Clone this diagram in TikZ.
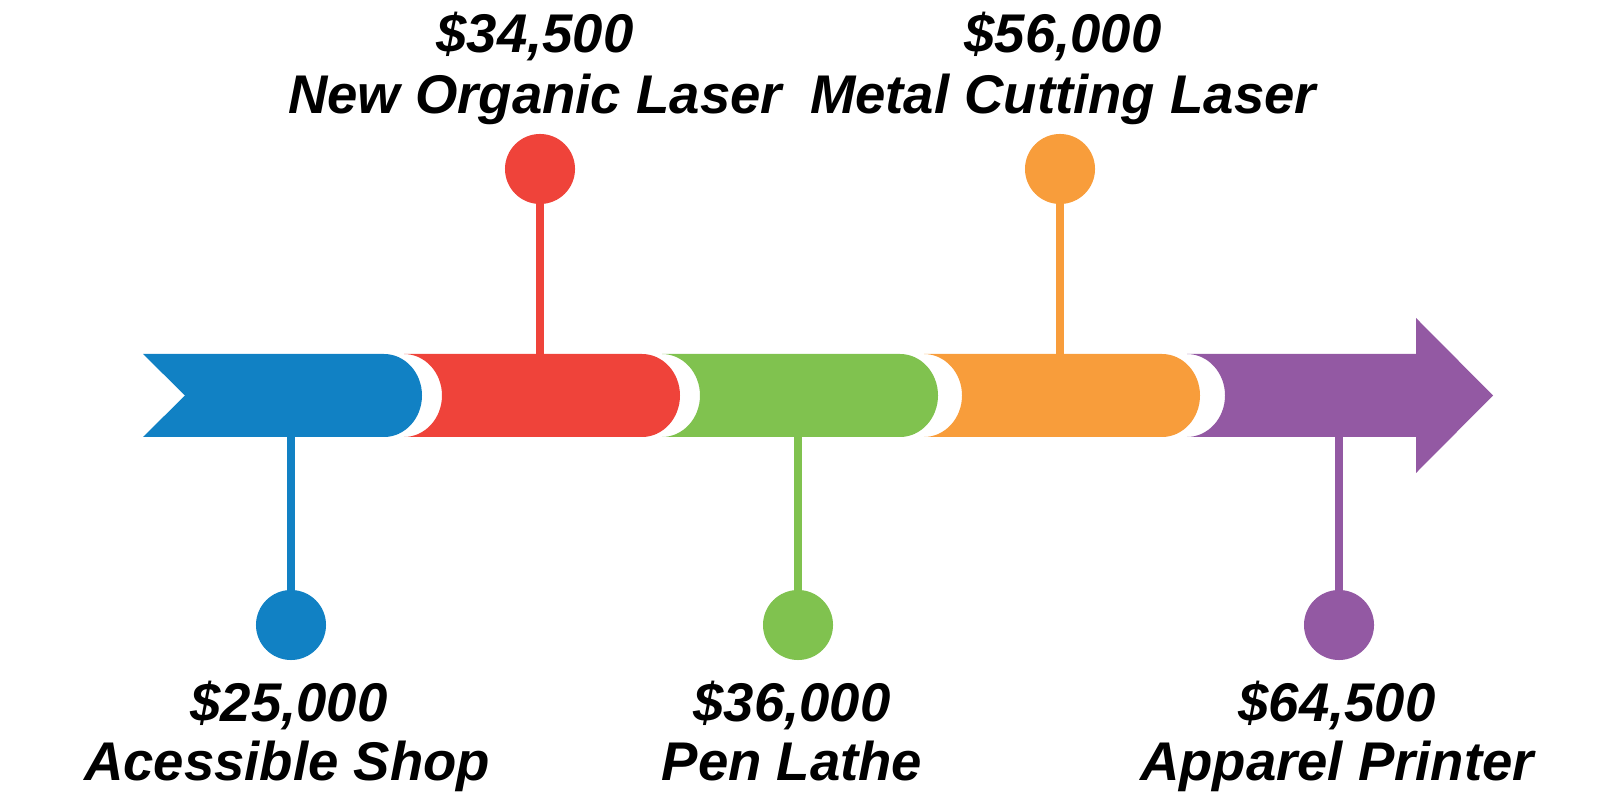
\documentclass[tikz,border=0pt]{standalone}
\usepackage{fontspec}
\setmainfont{Liberation Sans}
\definecolor{cblue}{RGB}{17,129,196}
\definecolor{cred}{RGB}{239,67,58}
\definecolor{cgreen}{RGB}{128,194,79}
\definecolor{corange}{RGB}{248,157,59}
\definecolor{cpurple}{RGB}{147,89,163}
\tikzset{
  stem/.style={line width=0.08cm},
  dot/.style={circle, inner sep=0pt, minimum size=0.70cm},
  lbl/.style={anchor=base, inner sep=0pt, font=\fontsize{15.5}{18}\selectfont\bfseries\itshape}
}
\begin{document}
\begin{tikzpicture}[x=0.01cm, y=0.01cm]
\useasboundingbox (0,0) rectangle (1600,800);
% segments
\fill[cblue] (143,446) -- (384,446) arc[start angle=90, end angle=-90, x radius=38, y radius=41.5] -- (143,363) -- (185,404.5) -- cycle;
\fill[cred] (404,446) -- (642,446) arc[start angle=90, end angle=-90, x radius=38, y radius=41.5] -- (404,363) arc[start angle=-90, end angle=90, x radius=38, y radius=41.5] -- cycle;
\fill[cgreen] (662,446) -- (900,446) arc[start angle=90, end angle=-90, x radius=38, y radius=41.5] -- (662,363) arc[start angle=-90, end angle=90, x radius=38, y radius=41.5] -- cycle;
\fill[corange] (924,446) -- (1162,446) arc[start angle=90, end angle=-90, x radius=38, y radius=41.5] -- (924,363) arc[start angle=-90, end angle=90, x radius=38, y radius=41.5] -- cycle;
\fill[cpurple] (1187,446) -- (1416,446) -- (1416,482) -- (1493,404.5) -- (1416,327) -- (1416,363) -- (1187,363) arc[start angle=-90, end angle=90, x radius=38, y radius=41.5] -- cycle;
% anchor points on bar
\coordinate (b1) at (291,365);
\coordinate (b2) at (540,444);
\coordinate (b3) at (798,365);
\coordinate (b4) at (1060,444);
\coordinate (b5) at (1339,365);
% dots
\node[dot, fill=cblue] (d1) at (291,175) {};
\node[dot, fill=cred] (d2) at (540,631) {};
\node[dot, fill=cgreen] (d3) at (798,175) {};
\node[dot, fill=corange] (d4) at (1060,631) {};
\node[dot, fill=cpurple] (d5) at (1339,175) {};
% stems
\draw[stem, cblue] (b1) -- (d1.center);
\draw[stem, cred] (b2) -- (d2.center);
\draw[stem, cgreen] (b3) -- (d3.center);
\draw[stem, corange] (b4) -- (d4.center);
\draw[stem, cpurple] (b5) -- (d5.center);
% labels
\node[lbl] (p2) at (535,747) {\$34,500};
\node[lbl] (n2) at (535,686) {New Organic Laser};
\node[lbl] (p4) at (1063,747) {\$56,000};
\node[lbl] (n4) at (1063,686) {Metal Cutting Laser};
\node[lbl] (p1) at (289,78) {\$25,000};
\node[lbl] (n1) at (287,20) {Acessible Shop};
\node[lbl] (p3) at (792,78) {\$36,000};
\node[lbl] (n3) at (792,20) {Pen Lathe};
\node[lbl] (p5) at (1337,78) {\$64,500};
\node[lbl] (n5) at (1337,20) {Apparel Printer};
\end{tikzpicture}
\end{document}
